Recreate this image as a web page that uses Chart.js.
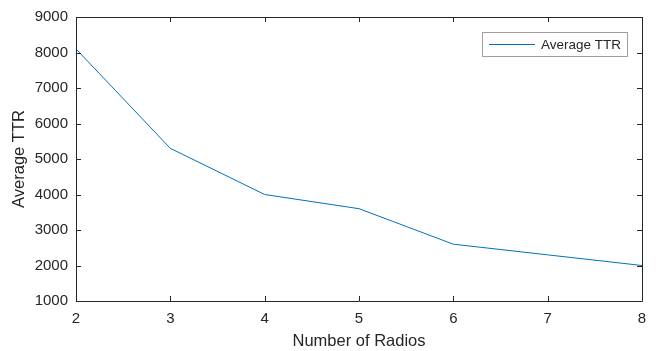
<!DOCTYPE html>
<html>
<head>
<meta charset="utf-8">
<script src="https://cdn.jsdelivr.net/npm/chart.js@4/dist/chart.umd.min.js"></script>
<style>
  html, body { margin: 0; padding: 0; background: #fff; }
  #wrap { width: 660px; height: 351px; }
</style>
</head>
<body>
<div id="wrap"><canvas id="myChart" width="660" height="351"></canvas></div>
<script>
const radios = [2, 3, 4, 5, 6, 7, 8];
const avgTTR = [8100, 5300, 4000, 3600, 2600, 2300, 2000];
const xTicks = [2, 3, 4, 5, 6, 7, 8];
const yTicks = [1000, 2000, 3000, 4000, 5000, 6000, 7000, 8000, 9000];

const axisColor = '#262626';
const fontFamily = '"Liberation Sans", Arial, Helvetica, sans-serif';

// MATLAB style box with inward ticks, plus a boxed legend
const boxPlugin = {
  id: 'box',
  afterDraw(chart) {
    const ctx = chart.ctx;
    const a = chart.chartArea;
    const xs = chart.scales.x, ys = chart.scales.y;
    const len = 5;
    ctx.save();
    ctx.strokeStyle = axisColor;
    ctx.lineWidth = 1;
    ctx.beginPath();
    ctx.rect(Math.round(a.left) + 0.5, Math.round(a.top) + 0.5,
      Math.round(a.right - a.left), Math.round(a.bottom - a.top));
    xTicks.forEach(v => {
      const px = Math.round(xs.getPixelForValue(v)) + 0.5;
      ctx.moveTo(px, a.bottom); ctx.lineTo(px, a.bottom - len);
      ctx.moveTo(px, a.top); ctx.lineTo(px, a.top + len);
    });
    yTicks.forEach(v => {
      const py = Math.round(ys.getPixelForValue(v)) + 0.5;
      ctx.moveTo(a.left, py); ctx.lineTo(a.left + len, py);
      ctx.moveTo(a.right, py); ctx.lineTo(a.right - len, py);
    });
    ctx.stroke();

    // legend
    const label = chart.data.datasets[0].label;
    ctx.font = '13.5px ' + fontFamily;
    const tw = ctx.measureText(label).width;
    const w = 7 + 46 + 6 + tw + 6, h = 24;
    const lx = Math.round(a.right - 15 - w), ly = Math.round(a.top + 15);
    ctx.fillStyle = '#fff';
    ctx.fillRect(lx, ly, w, h);
    ctx.strokeStyle = '#a0a0a0';
    ctx.strokeRect(lx + 0.5, ly + 0.5, w, h);
    ctx.strokeStyle = chart.data.datasets[0].borderColor;
    ctx.beginPath();
    ctx.moveTo(lx + 7, ly + 12.5); ctx.lineTo(lx + 53, ly + 12.5);
    ctx.stroke();
    ctx.fillStyle = axisColor;
    ctx.textBaseline = 'middle';
    ctx.fillText(label, lx + 59, ly + 13);
    ctx.restore();
  }
};

const config = {
  type: 'line',
  data: {
    labels: radios,
    datasets: [{
      label: 'Average TTR',
      data: radios.map((r, i) => ({ x: r, y: avgTTR[i] })),
      borderColor: '#0072BD',
      backgroundColor: '#0072BD',
      borderWidth: 1,
      pointRadius: 0,
      tension: 0,
    }]
  },
  options: {
    responsive: false,
    animation: false,
    layout: { padding: { top: 12, right: 18, left: 0, bottom: 0 } },
    plugins: { legend: { display: false }, tooltip: { enabled: false } },
    scales: {
      x: {
        type: 'linear',
        min: 2, max: 8,
        afterBuildTicks: s => { s.ticks = xTicks.map(v => ({ value: v })); },
        afterFit: s => { s.height = 50; },
        grid: { display: false, drawTicks: false },
        border: { display: false },
        ticks: { color: axisColor, padding: 9, font: { family: fontFamily, size: 15 }, maxRotation: 0,
          callback: v => String(v) },
        title: { display: true, text: 'Number of Radios', color: axisColor,
          font: { family: fontFamily, size: 16.5 }, padding: { top: 0, bottom: 0 } }
      },
      y: {
        min: 1000, max: 9000,
        afterBuildTicks: s => { s.ticks = yTicks.map(v => ({ value: v })); },
        afterFit: s => { s.width = 76; },
        grid: { display: false, drawTicks: false },
        border: { display: false },
        ticks: { color: axisColor, padding: 8, font: { family: fontFamily, size: 15 },
          callback: v => String(v) },
        title: { display: true, text: 'Average TTR', color: axisColor,
          font: { family: fontFamily, size: 16.5 }, padding: { top: 10, bottom: 0 } }
      }
    }
  },
  plugins: [boxPlugin]
};

new Chart(document.getElementById('myChart'), config);
</script>
</body>
</html>
